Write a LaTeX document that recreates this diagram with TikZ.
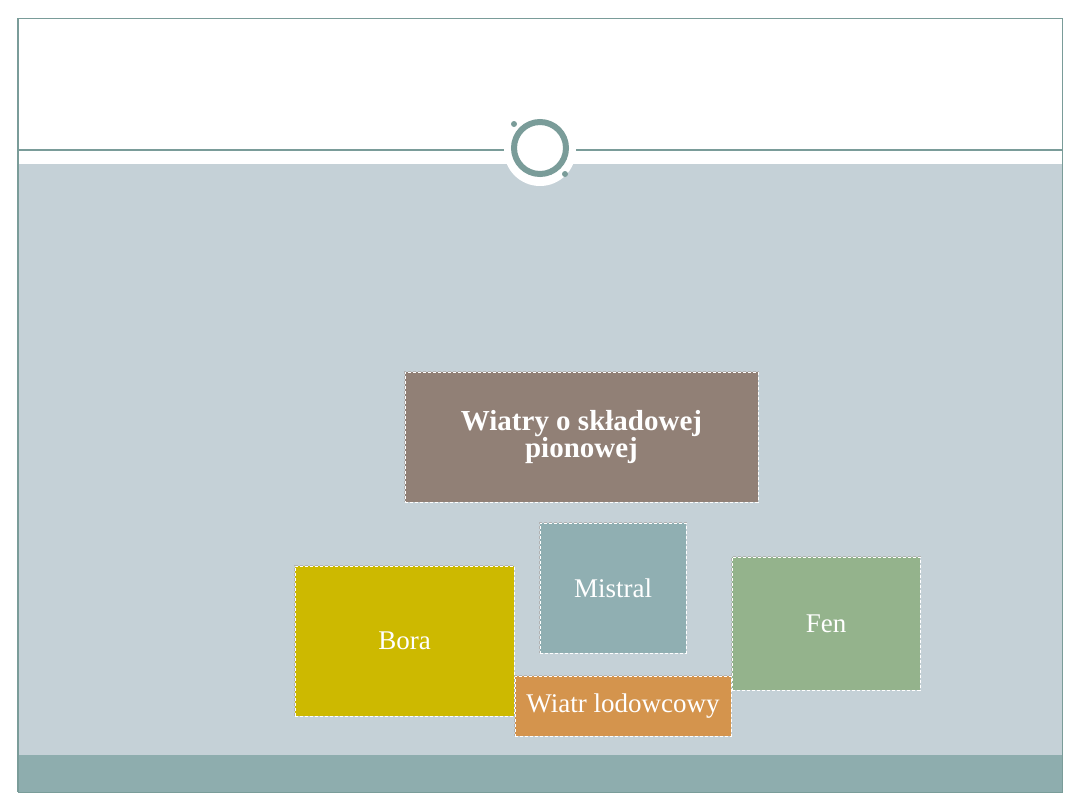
\documentclass[tikz,border=0pt]{standalone}
\usepackage{fontspec}
\setmainfont{Liberation Serif}
\usepackage{tikz}
\usetikzlibrary{positioning}
\definecolor{framegreen}{RGB}{122,156,153}
\definecolor{slidegray} {RGB}{197,209,215}
\definecolor{footteal}  {RGB}{142,173,174}
\definecolor{titlebrown}{RGB}{145,128,118}
\definecolor{borayellow}{RGB}{205,185,0}
\definecolor{mistralteal}{RGB}{144,175,178}
\definecolor{fengreen}  {RGB}{148,179,140}
\definecolor{iceorange} {RGB}{212,148,77}
\tikzset{
  windbox/.style={draw=white, dash pattern=on 1.5pt off 1pt, line width=0.5pt,
                  preaction={draw=gray!60, line width=0.6pt},
                  align=center, text=white, inner sep=2pt,
                  font=\fontsize{13.5}{15}\selectfont},
  titlebox/.style={windbox, fill=titlebrown,
                   font=\fontsize{14.5}{13.5}\selectfont\bfseries},
  dot/.style={fill=framegreen, circle, inner sep=0pt, minimum size=3pt},
}
\begin{document}
\begin{tikzpicture}[x=0.5pt,y=-0.5pt]
  \useasboundingbox (0,0) rectangle (1080,810);
  % slide background
  \fill[white] (18,18) rectangle (1062,792);
  \fill[slidegray] (18,164) rectangle (1062,755);
  \fill[footteal] (18,755) rectangle (1062,792);
  \draw[framegreen, line width=0.5pt] (18,18) rectangle (1062,792);
  \draw[framegreen, line width=1.2pt] (18,18) -- (18,792);
  % header rule and ring
  \draw[framegreen, line width=0.6pt] (18,150) -- (1062,150);
  \fill[white] (540,150) circle[radius=18pt];
  \draw[framegreen, line width=3pt] (540,148) circle[radius=13pt];
  \node[dot] (dotA) at (514,124) {};
  \node[dot] (dotB) at (565,174) {};
  % boxes
  \node[titlebox, minimum width=176.5pt, minimum height=65pt] (title) at (581.5,437)
    {Wiatry o składowej\\pionowej};
  \node[windbox, fill=borayellow, minimum width=109.5pt, minimum height=75pt] (bora) at (404.5,641) {Bora};
  \node[windbox, fill=mistralteal, minimum width=73pt, minimum height=65pt] (mistral) at (613,588) {Mistral};
  \node[windbox, fill=fengreen, minimum width=94pt, minimum height=66.5pt] (fen) at (826,623.5) {Fen};
  \node[windbox, fill=iceorange, minimum width=108pt, minimum height=30pt] (ice) at (623,706) {Wiatr lodowcowy};
\end{tikzpicture}
\end{document}
